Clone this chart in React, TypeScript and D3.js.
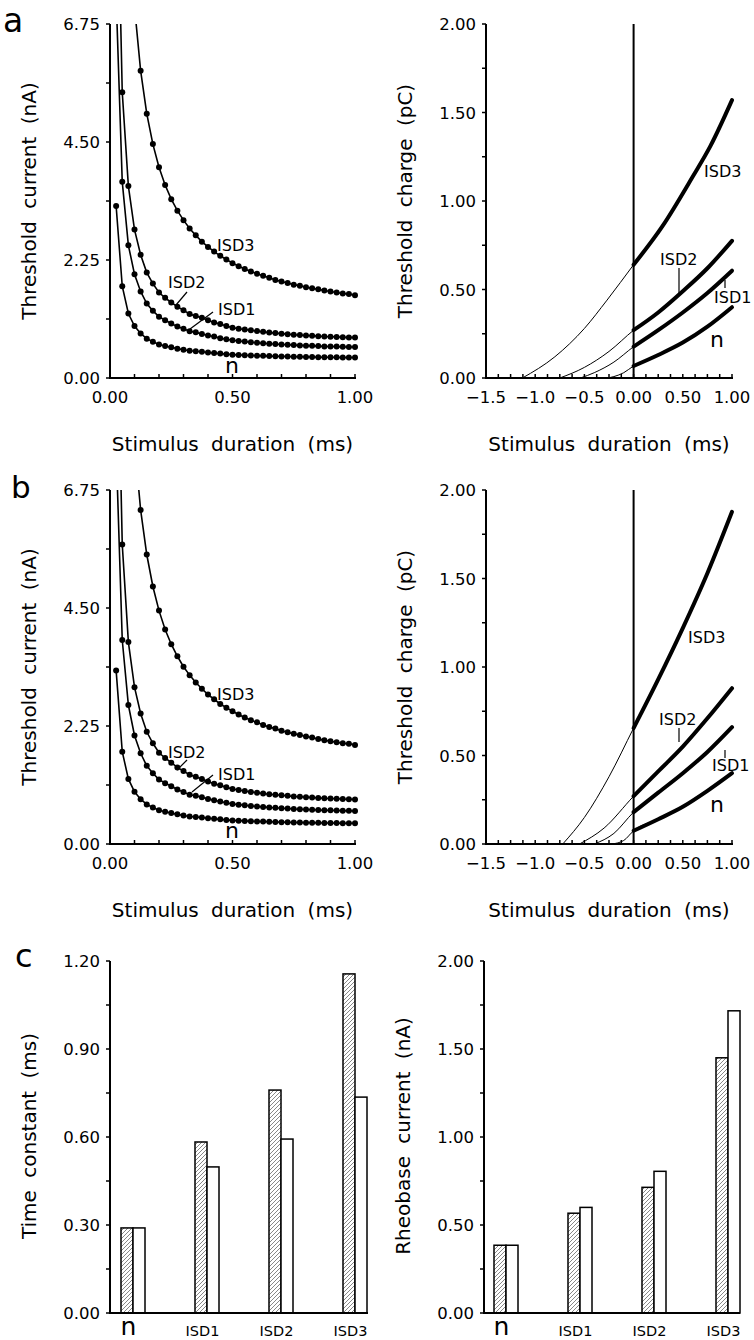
import React from 'react';
import * as d3 from 'd3';

// ---------- data ----------
const DURATIONS = [0.025, 0.05, 0.075, 0.1, 0.125, 0.15, 0.175, 0.2, 0.225, 0.25, 0.275, 0.3, 0.325, 0.35, 0.375, 0.4, 0.425, 0.45, 0.475, 0.5, 0.525, 0.55, 0.575, 0.6, 0.625, 0.65, 0.675, 0.7, 0.725, 0.75, 0.775, 0.8, 0.825, 0.85, 0.875, 0.9, 0.925, 0.95, 0.975, 1.0];

const A_N = [3.28, 1.75, 1.23, 0.99, 0.85, 0.75, 0.69, 0.64, 0.61, 0.585, 0.56, 0.54, 0.52, 0.51, 0.5, 0.485, 0.475, 0.465, 0.455, 0.445, 0.44, 0.435, 0.43, 0.426, 0.422, 0.418, 0.415, 0.412, 0.409, 0.406, 0.404, 0.402, 0.4, 0.398, 0.396, 0.395, 0.394, 0.392, 0.391, 0.39];
const A_ISD1 = [7.28, 3.74, 2.53, 1.98, 1.65, 1.42, 1.28, 1.17, 1.1, 1.04, 0.98, 0.94, 0.89, 0.87, 0.84, 0.81, 0.79, 0.76, 0.74, 0.72, 0.705, 0.694, 0.682, 0.673, 0.664, 0.654, 0.647, 0.64, 0.633, 0.627, 0.622, 0.617, 0.613, 0.608, 0.603, 0.601, 0.599, 0.594, 0.592, 0.59];
const A_ISD2 = [10.71, 5.45, 3.66, 2.83, 2.35, 2.01, 1.8, 1.63, 1.53, 1.44, 1.36, 1.29, 1.22, 1.18, 1.15, 1.1, 1.06, 1.03, 0.99, 0.96, 0.94, 0.925, 0.91, 0.894, 0.88, 0.866, 0.856, 0.846, 0.836, 0.825, 0.818, 0.811, 0.805, 0.798, 0.791, 0.787, 0.784, 0.777, 0.774, 0.77];
const A_ISD3 = [25.4, 13.2, 9.12, 7.08, 5.86, 5.04, 4.46, 4.02, 3.68, 3.41, 3.19, 3.01, 2.85, 2.72, 2.6, 2.5, 2.41, 2.33, 2.26, 2.19, 2.13, 2.08, 2.03, 1.99, 1.95, 1.91, 1.87, 1.84, 1.81, 1.78, 1.76, 1.73, 1.71, 1.69, 1.67, 1.65, 1.63, 1.61, 1.6, 1.58];

const B_N = [3.31, 1.76, 1.24, 0.995, 0.855, 0.755, 0.695, 0.645, 0.615, 0.59, 0.565, 0.545, 0.525, 0.515, 0.505, 0.49, 0.48, 0.47, 0.46, 0.45, 0.445, 0.44, 0.435, 0.431, 0.427, 0.423, 0.42, 0.417, 0.414, 0.411, 0.409, 0.407, 0.405, 0.403, 0.401, 0.4, 0.399, 0.397, 0.396, 0.395];
const B_ISD1 = [7.57, 3.89, 2.65, 2.07, 1.73, 1.49, 1.35, 1.23, 1.16, 1.1, 1.04, 0.99, 0.94, 0.92, 0.89, 0.86, 0.834, 0.81, 0.786, 0.762, 0.75, 0.738, 0.726, 0.716, 0.707, 0.697, 0.69, 0.683, 0.676, 0.668, 0.664, 0.659, 0.654, 0.649, 0.644, 0.642, 0.64, 0.635, 0.632, 0.63];
const B_ISD2 = [11.17, 5.71, 3.85, 2.99, 2.49, 2.14, 1.92, 1.74, 1.64, 1.55, 1.46, 1.39, 1.32, 1.28, 1.24, 1.19, 1.15, 1.12, 1.08, 1.05, 1.03, 1.01, 0.993, 0.979, 0.964, 0.95, 0.939, 0.929, 0.918, 0.907, 0.9, 0.893, 0.886, 0.879, 0.872, 0.868, 0.864, 0.857, 0.854, 0.85];
const B_ISD3 = [26.9, 14.0, 9.78, 7.65, 6.37, 5.52, 4.91, 4.45, 4.09, 3.81, 3.58, 3.38, 3.22, 3.08, 2.96, 2.85, 2.76, 2.67, 2.6, 2.53, 2.47, 2.41, 2.36, 2.32, 2.27, 2.23, 2.2, 2.16, 2.13, 2.1, 2.08, 2.05, 2.03, 2.0, 1.98, 1.96, 1.94, 1.92, 1.91, 1.89];

// charge vs duration (read at a few durations)
const QA_N_T = [-0.27, -0.2, -0.1, 0, 0.25, 0.5, 0.75, 1.0];
const QA_N = [0, 0.008, 0.03, 0.068, 0.13, 0.2, 0.29, 0.4];
const QA_ISD1_T = [-0.54, -0.4, -0.2, 0, 0.25, 0.5, 0.75, 1.0];
const QA_ISD1 = [0, 0.03, 0.09, 0.177, 0.27, 0.37, 0.48, 0.606];
const QA_ISD2_T = [-0.75, -0.5, -0.25, 0, 0.25, 0.5, 0.75, 1.0];
const QA_ISD2 = [0, 0.06, 0.15, 0.27, 0.37, 0.49, 0.62, 0.775];
const QA_ISD3_T = [-1.13, -0.8, -0.5, -0.27, 0, 0.29, 0.6, 0.78, 1.0];
const QA_ISD3 = [0, 0.12, 0.28, 0.44, 0.64, 0.855, 1.137, 1.31, 1.57];

const QB_N_T = [-0.22, -0.1, 0, 0.25, 0.5, 0.75, 1.0];
const QB_N = [0, 0.02, 0.075, 0.14, 0.21, 0.3, 0.4];
const QB_ISD1_T = [-0.4, -0.2, 0, 0.25, 0.5, 0.75, 1.0];
const QB_ISD1 = [0, 0.06, 0.18, 0.29, 0.4, 0.52, 0.66];
const QB_ISD2_T = [-0.55, -0.3, 0, 0.25, 0.5, 0.75, 1.0];
const QB_ISD2 = [0, 0.09, 0.27, 0.41, 0.55, 0.71, 0.88];
const QB_ISD3_T = [-0.72, -0.5, -0.25, 0, 0.25, 0.5, 0.75, 1.0];
const QB_ISD3 = [0, 0.15, 0.38, 0.655, 0.93, 1.22, 1.53, 1.877];

// bar chart
const GROUPS = ['n', 'ISD1', 'ISD2', 'ISD3'];
const TAU_A = [0.29, 0.583, 0.76, 1.156];
const TAU_B = [0.29, 0.498, 0.593, 0.736];
const RHEO_A = [0.385, 0.567, 0.714, 1.45];
const RHEO_B = [0.385, 0.6, 0.805, 1.717];

const CUR_TICKS = [0, 2.25, 4.5, 6.75];
const CHG_TICKS = [0, 0.5, 1.0, 1.5, 2.0];
const DUR_LABELS = [0, 0.5, 1.0];
const CHG_X_LABELS = [-1.5, -1.0, -0.5, 0, 0.5, 1.0];
const TAU_TICKS = [0, 0.3, 0.6, 0.9, 1.2];
const RHEO_TICKS = [0, 0.5, 1.0, 1.5, 2.0];

const FONT = 'DejaVu Sans, Verdana, sans-serif';
const fmt2 = d3.format('.2f');
const fmtChgX = (v: number) => (v < 0 ? '\u2212' + Math.abs(v).toFixed(1) : v.toFixed(2));

function YAxis({ x, scale, major, minorStep, max }: any) {
  const minors = d3.range(0, max + 1e-9, minorStep);
  const [r0, r1] = scale.range();
  return (
    <g>
      <line x1={x} x2={x} y1={r0 + 1} y2={r1} stroke="#000" strokeWidth={2} />
      {minors.map((v: number, i: number) => (
        <line key={'m' + i} x1={x - 4} x2={x} y1={scale(v)} y2={scale(v)} stroke="#000" strokeWidth={1.5} />
      ))}
      {major.map((v: number, i: number) => (
        <text key={'t' + i} x={x - 10} y={scale(v) + 6} textAnchor="end" fontSize={16.5} fontFamily={FONT}>
          {fmt2(v)}
        </text>
      ))}
    </g>
  );
}

function XAxis({ y, scale, ticks, labels, fmt }: any) {
  const [r0, r1] = scale.range();
  return (
    <g>
      <line x1={r0 - 1} x2={r1 + 1} y1={y} y2={y} stroke="#000" strokeWidth={2} />
      {ticks.map((v: number, i: number) => (
        <line key={'k' + i} x1={scale(v)} x2={scale(v)} y1={y} y2={y - 4} stroke="#000" strokeWidth={1.5} />
      ))}
      {labels.map((v: number, i: number) => (
        <text key={'l' + i} x={scale(v)} y={y + 25} textAnchor="middle" fontSize={16.5} fontFamily={FONT}>
          {fmt(v)}
        </text>
      ))}
    </g>
  );
}

function CurrentPlot({ top, series, labels, id }: any) {
  const x = d3.scaleLinear().domain([0, 1]).range([110, 355]);
  const y = d3.scaleLinear().domain([0, 6.75]).range([top + 354, top]);
  const line = d3.line<number>().x((_, i) => x(DURATIONS[i])).y((d) => y(d));
  return (
    <g>
      <defs>
        <clipPath id={id}>
          <rect x={110} y={top} width={252} height={356} />
        </clipPath>
      </defs>
      <g clipPath={`url(#${id})`}>
        {series.map((s: number[], k: number) => (
          <g key={k}>
            <path d={line(s) || ''} fill="none" stroke="#000" strokeWidth={1.6} />
            {s.map((v, i) => (v <= 6.75 ? <circle key={i} cx={x(DURATIONS[i])} cy={y(v)} r={3} fill="#000" /> : null))}
          </g>
        ))}
      </g>
      <YAxis x={110} scale={y} major={CUR_TICKS} minorStep={1.125} max={6.75} />
      <XAxis y={top + 354} scale={x} ticks={d3.range(0, 1.0001, 0.1)} labels={DUR_LABELS} fmt={fmt2} />
      <text transform={`translate(36,${top + 177}) rotate(-90)`} textAnchor="middle" fontSize={20} fontFamily={FONT} style={{ wordSpacing: '6px' }}>
        Threshold current (nA)
      </text>
      <text x={232.5} y={top + 427} textAnchor="middle" fontSize={20} fontFamily={FONT} style={{ wordSpacing: '6px' }}>
        Stimulus duration (ms)
      </text>
      {labels}
    </g>
  );
}

function ChargePlot({ top, series, labels }: any) {
  const x = d3.scaleLinear().domain([-1.5, 1]).range([486, 732]);
  const y = d3.scaleLinear().domain([0, 2]).range([top + 354, top]);
  return (
    <g>
      <line x1={x(0)} x2={x(0)} y1={y(0)} y2={y(2)} stroke="#000" strokeWidth={2} />
      {series.map((s: any, k: number) => {
        const pts: [number, number][] = s.t.map((t: number, i: number) => [t, s.q[i]]);
        const line = d3.line<[number, number]>().x((d) => x(d[0])).y((d) => y(d[1])).curve(d3.curveMonotoneX);
        const pos = pts.filter((p) => p[0] >= 0);
        return (
          <g key={k}>
            <path d={line(pts) || ''} fill="none" stroke="#000" strokeWidth={1} />
            <path d={line(pos) || ''} fill="none" stroke="#000" strokeWidth={4} strokeLinecap="round" />
          </g>
        );
      })}
      <YAxis x={486} scale={y} major={CHG_TICKS} minorStep={0.25} max={2} />
      <XAxis y={top + 354} scale={x} ticks={d3.range(-1.5, 1.0001, 0.125)} labels={CHG_X_LABELS} fmt={fmtChgX} />
      <text transform={`translate(412,${top + 177}) rotate(-90)`} textAnchor="middle" fontSize={20} fontFamily={FONT} style={{ wordSpacing: '6px' }}>
        Threshold charge (pC)
      </text>
      <text x={609} y={top + 427} textAnchor="middle" fontSize={20} fontFamily={FONT} style={{ wordSpacing: '6px' }}>
        Stimulus duration (ms)
      </text>
      {labels}
    </g>
  );
}

function BarPlot({ x0, x1, centerL, centerR, dom, ticks, minorStep, a, b, title, titleX }: any) {
  const y = d3.scaleLinear().domain(dom).range([1313, 961]);
  const xc = d3.scalePoint<string>().domain(GROUPS).range([centerL, centerR]);
  const bw = 12;
  return (
    <g>
      {GROUPS.map((g, i) => (
        <g key={g}>
          <rect x={xc(g)! - bw} y={y(a[i])} width={bw} height={y(0) - y(a[i])} fill="url(#hatch)" stroke="#000" strokeWidth={1.5} />
          <rect x={xc(g)!} y={y(b[i])} width={bw} height={y(0) - y(b[i])} fill="#fff" stroke="#000" strokeWidth={1.5} />
          <text x={xc(g)! - 4.5} y={g === 'n' ? 1335 : 1336} textAnchor="middle" fontSize={g === 'n' ? 25 : 14.5} fontFamily={FONT}>
            {g}
          </text>
        </g>
      ))}
      <line x1={x0 - 1} x2={x1} y1={1313} y2={1313} stroke="#000" strokeWidth={2} />
      <YAxis x={x0} scale={y} major={ticks} minorStep={minorStep} max={dom[1]} />
      <text transform={`translate(${titleX},1136) rotate(-90)`} textAnchor="middle" fontSize={20} fontFamily={FONT} style={{ wordSpacing: '6px' }}>
        {title}
      </text>
    </g>
  );
}

const lbl = (x: number, y: number, s: string, size = 16) => (
  <text x={x} y={y} fontSize={size} fontFamily={FONT}>
    {s}
  </text>
);
const seg = (x1: number, y1: number, x2: number, y2: number) => <line x1={x1} y1={y1} x2={x2} y2={y2} stroke="#000" strokeWidth={1.2} />;

export default function App() {
  return (
    <svg width={754} height={1340} style={{ position: 'absolute', left: 0, top: 0, background: '#fff' }}>
      <defs>
        <pattern id="hatch" patternUnits="userSpaceOnUse" width={4} height={4}>
          <path d="M-1,1 l2,-2 M0,4 l4,-4 M3,5 l2,-2" stroke="#555" strokeWidth={0.7} />
        </pattern>
      </defs>
      <rect x={0} y={0} width={754} height={1340} fill="#fff" />
      <text x={3} y={32} fontSize={33} fontFamily={FONT}>a</text>
      <text x={11} y={498} fontSize={31} fontFamily={FONT}>b</text>
      <text x={15} y={967} fontSize={32} fontFamily={FONT}>c</text>

      <CurrentPlot
        id="clipA"
        top={24}
        series={[A_N, A_ISD1, A_ISD2, A_ISD3]}
        labels={
          <g>
            {lbl(217, 251, 'ISD3')}
            {lbl(168, 288, 'ISD2')}
            {seg(187, 292, 176, 305)}
            {lbl(218, 315, 'ISD1')}
            {seg(213, 312, 190, 329)}
            {lbl(225, 373, 'n', 22)}
          </g>
        }
      />
      <ChargePlot
        top={24}
        series={[
          { t: QA_N_T, q: QA_N },
          { t: QA_ISD1_T, q: QA_ISD1 },
          { t: QA_ISD2_T, q: QA_ISD2 },
          { t: QA_ISD3_T, q: QA_ISD3 },
        ]}
        labels={
          <g>
            {lbl(704, 177, 'ISD3')}
            {lbl(660, 265, 'ISD2')}
            {seg(679, 268, 679, 293)}
            {lbl(714, 303, 'ISD1')}
            {seg(725, 280, 725, 288)}
            {lbl(710, 347, 'n', 22)}
          </g>
        }
      />
      <CurrentPlot
        id="clipB"
        top={490}
        series={[B_N, B_ISD1, B_ISD2, B_ISD3]}
        labels={
          <g>
            {lbl(217, 700, 'ISD3')}
            {lbl(168, 758, 'ISD2')}
            {seg(187, 760, 177, 770)}
            {lbl(218, 780, 'ISD1')}
            {seg(213, 775, 192, 792)}
            {lbl(225, 838, 'n', 22)}
          </g>
        }
      />
      <ChargePlot
        top={490}
        series={[
          { t: QB_N_T, q: QB_N },
          { t: QB_ISD1_T, q: QB_ISD1 },
          { t: QB_ISD2_T, q: QB_ISD2 },
          { t: QB_ISD3_T, q: QB_ISD3 },
        ]}
        labels={
          <g>
            {lbl(688, 643, 'ISD3')}
            {lbl(659, 725, 'ISD2')}
            {seg(679, 728, 679, 742)}
            {lbl(712, 771, 'ISD1')}
            {seg(725, 750, 725, 758)}
            {lbl(710, 812, 'n', 22)}
          </g>
        }
      />
      <BarPlot x0={110} x1={368} centerL={133} centerR={355} dom={[0, 1.2]} ticks={TAU_TICKS} minorStep={0.15} a={TAU_A} b={TAU_B} title="Time constant (ms)" titleX={36} />
      <BarPlot x0={484} x1={740} centerL={506} centerR={728} dom={[0, 2]} ticks={RHEO_TICKS} minorStep={0.25} a={RHEO_A} b={RHEO_B} title="Rheobase current (nA)" titleX={410} />
    </svg>
  );
}
